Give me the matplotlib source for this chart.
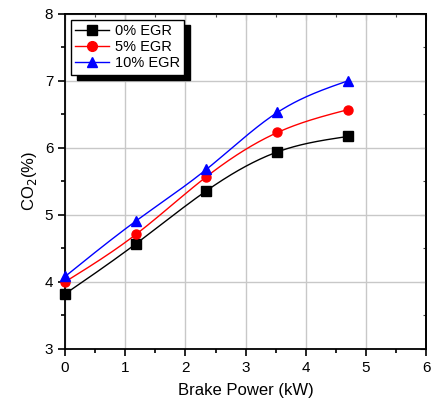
import numpy as np
import matplotlib.pyplot as plt
from matplotlib.ticker import MultipleLocator, NullFormatter

plt.rcParams['font.family'] = ['Liberation Sans', 'DejaVu Sans']

power = [0.0, 1.18, 2.35, 3.53, 4.70]
co2_0 = [3.82, 4.57, 5.36, 5.94, 6.17]
co2_5 = [4.00, 4.71, 5.57, 6.23, 6.57]
co2_10 = [4.08, 4.91, 5.68, 6.53, 7.00]
labels = ['0% EGR', '5% EGR', '10% EGR']


def spline(x, y, n=200):
    # natural cubic spline, only for drawing the smooth line
    x = np.asarray(x, float)
    y = np.asarray(y, float)
    k = len(x)
    h = np.diff(x)
    A = np.zeros((k, k))
    b = np.zeros(k)
    A[0, 0] = A[-1, -1] = 1
    for i in range(1, k - 1):
        A[i, i - 1] = h[i - 1]
        A[i, i] = 2 * (h[i - 1] + h[i])
        A[i, i + 1] = h[i]
        b[i] = 6 * ((y[i + 1] - y[i]) / h[i] - (y[i] - y[i - 1]) / h[i - 1])
    M = np.linalg.solve(A, b)
    xs = np.linspace(x[0], x[-1], n)
    idx = np.clip(np.searchsorted(x, xs) - 1, 0, k - 2)
    x0, x1 = x[idx], x[idx + 1]
    hh = x1 - x0
    t0, t1 = x1 - xs, xs - x0
    ys = (M[idx] * t0**3 + M[idx + 1] * t1**3) / (6 * hh) \
        + (y[idx] / hh - M[idx] * hh / 6) * t0 \
        + (y[idx + 1] / hh - M[idx + 1] * hh / 6) * t1
    return xs, ys


fig = plt.figure(figsize=(4.37, 4.08), dpi=100)
ax = fig.add_axes([0.149, 0.145, 0.826, 0.821])

series = [(co2_0, 'black', 's'), (co2_5, 'red', 'o'), (co2_10, 'blue', '^')]
handles = []
for (vals, c, m), lab in zip(series, labels):
    xs, ys = spline(power, vals)
    ax.plot(xs, ys, color=c, lw=1, zorder=3)
    ax.plot(power, vals, ls='none', marker=m, color=c, ms=6.5, zorder=4, clip_on=False)
    h, = ax.plot([], [], color=c, lw=1, marker=m, ms=7, label=lab)
    handles.append(h)

ax.set_xlim(0, 6)
ax.set_ylim(3, 8)
for a in (ax.xaxis, ax.yaxis):
    a.set_major_locator(MultipleLocator(1))
    a.set_minor_locator(MultipleLocator(0.5))
ax.grid(True, which='major', color='#c8c8c8', lw=1)
ax.set_axisbelow(True)
ax.tick_params(which='both', direction='out', labelsize=11, width=1.2)
ax.tick_params(which='major', length=5)
ax.tick_params(which='minor', length=3)
for sp in ax.spines.values():
    sp.set_linewidth(1.3)

# inward ticks on the top and right, no labels
top = ax.secondary_xaxis('top')
right = ax.secondary_yaxis('right')
for a in (top.xaxis, right.yaxis):
    a.set_major_locator(MultipleLocator(1))
    a.set_minor_locator(MultipleLocator(0.5))
    a.set_major_formatter(NullFormatter())
    a.set_minor_formatter(NullFormatter())
for sec in (top, right):
    sec.tick_params(which='both', direction='in', width=0.8, color='#444444')
    sec.tick_params(which='major', length=4)
    sec.tick_params(which='minor', length=2.5)
    for sp in sec.spines.values():
        sp.set_linewidth(1.3)

ax.set_xlabel('Brake Power (kW)', fontsize=12, labelpad=6)
ax.set_ylabel('CO$_2$(%)', fontsize=12)

leg = ax.legend(handles=handles, loc='upper left', fontsize=10.5, frameon=True,
                fancybox=False, edgecolor='black', framealpha=1,
                shadow={'color': 'black', 'alpha': 1, 'ox': 4, 'oy': -4},
                handlelength=2.3, borderpad=0.3, labelspacing=0.15,
                handletextpad=0.4, borderaxespad=0.4)
leg.get_frame().set_linewidth(1)

fig.savefig('out.png', dpi=100)
